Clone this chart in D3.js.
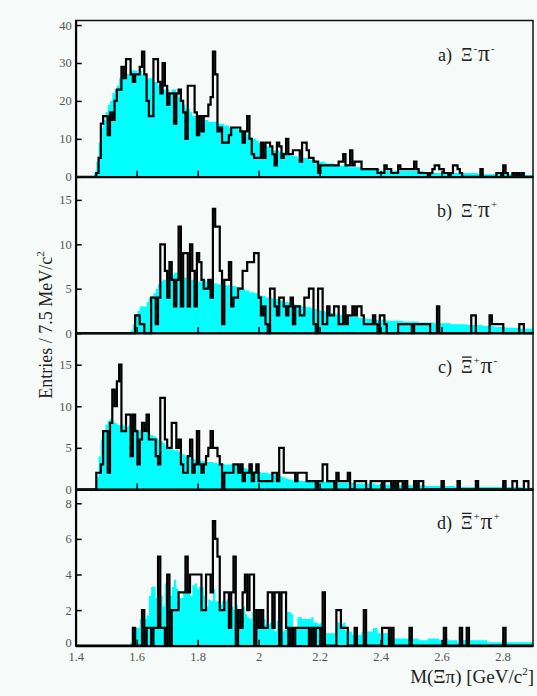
<!DOCTYPE html>
<html>
<head>
<meta charset="utf-8">
<script src="https://cdn.jsdelivr.net/npm/d3@7"></script>
<style>
  body { margin: 0; background: #f6faf8; }
  text { font-family: "Liberation Serif", "Times New Roman", serif; }
</style>
</head>
<body>
<div id="chart"></div>
<script>
// Binning: 7.5 MeV bins from 1.4 to 2.9 GeV (200 bins)
var binLo = 1.4, binHi = 2.9, binW = 0.0075;

// Measured spectra (black outline), one entry per bin
var dataA = [
  0,0,0,0,0,0,0,0,0,1,   5,14,16,16,11,17,15,20,23,23,
  29,26,31,31,27,25,27,27,29,33,   27,20,16,16,31,31,25,22,30,24,
  19,22,22,14,22,23,20,17,10,24,   24,24,17,11,16,12,16,16,19,21,
  33,27,12,13,9,9,9,11,13,13,   13,13,12,9,12,16,10,6,5,5,
  5,9,5,9,9,8,6,3,9,8,   5,6,10,6,6,7,7,7,4,9,
  9,7,5,5,4,4,1,3,3,3,   3,3,3,3,3,4,4,6,3,3,
  7,3,4,4,4,2,2,2,2,2,   2,2,1,1,1,3,2,2,1,1,
  1,3,2,2,2,2,2,2,4,2,   1,1,1,1,0,1,2,3,3,2,
  2,1,1,0,1,3,3,2,1,0,   0,0,0,0,0,0,0,2,0,0,
  0,0,0,0,1,1,0,3,1,0,   0,1,0,1,0,1,0,0,0,0
];
var dataB = [
  0,0,0,0,0,0,0,0,0,0,   0,0,0,0,0,0,0,0,0,0,
  0,0,0,0,0,0,2,2,1,1,   0,0,0,4,4,1,4,10,10,7,
  4,8,6,3,6,12,3,9,9,3,   10,7,3,9,8,6,5,5,6,4,
  14,12,12,7,1,6,6,8,3,4,   4,5,5,7,7,8,8,8,9,9,
  4,2,3,1,0,5,5,3,2,4,   4,3,2,3,4,1,3,3,2,2,
  4,4,5,5,1,0,5,5,1,1,   3,2,2,3,3,1,1,3,1,2,
  2,3,2,3,3,2,1,1,1,1,   2,1,0,2,2,1,0,0,0,0,
  0,1,1,1,1,1,1,0,1,1,   1,1,1,1,1,0,0,0,3,0,
  0,0,0,0,0,0,0,0,0,0,   0,0,0,2,2,0,0,0,0,0,
  0,2,1,1,1,1,1,0,0,0,   0,0,0,0,1,1,0,0,0,0
];
var dataC = [
  0,0,0,0,0,0,0,0,0,2,   2,3,7,7,2,8,12,10,13,15,
  7,7,9,9,4,9,7,3,6,8,   7,9,6,6,6,4,3,11,11,6,
  5,5,8,8,5,6,3,2,2,4,   6,2,3,7,3,2,3,4,5,7,
  5,5,4,3,0,2,2,2,2,3,   3,2,3,1,2,2,3,1,2,3,
  1,1,1,1,1,1,2,2,1,5,   5,2,2,2,2,2,1,2,2,2,
  2,1,1,1,1,0,1,1,3,3,   1,1,1,0,2,1,1,1,1,2,
  0,0,1,1,1,1,1,0,0,1,   1,1,1,1,0,1,1,1,0,1,
  0,1,1,0,1,0,0,0,1,0,   1,1,0,0,0,0,0,0,0,0,
  1,0,0,0,0,0,0,1,0,0,   0,0,0,0,0,1,0,0,0,0,
  0,0,0,0,0,0,0,1,0,0,   0,1,1,0,0,0,1,1,0,0
];
var dataD = [
  0,0,0,0,0,0,0,0,0,0,   0,0,0,0,0,0,0,0,0,0,
  0,0,0,0,0,1,0,0,0,2,   0,1,1,0,1,1,5,1,1,0,
  4,0,2,2,2,3,3,3,5,3,   4,4,4,4,4,2,2,4,4,3,
  7,6,5,2,2,3,3,1,3,5,   0,2,1,3,4,2,4,4,0,2,
  1,2,1,1,3,3,1,3,3,0,   3,3,1,0,1,0,1,1,1,1,
  1,1,0,1,0,1,1,0,3,0,   0,0,0,0,2,2,1,1,1,0,
  0,0,1,0,0,0,2,0,0,0,   0,0,0,0,1,1,1,0,1,0,
  0,0,0,0,0,0,1,0,0,0,   0,0,0,0,0,0,0,0,0,0,
  0,1,0,0,0,0,0,0,1,0,   0,1,0,0,0,0,0,0,0,0,
  0,0,0,0,0,0,0,1,0,0,   0,0,0,0,0,0,0,0,0,0
];

// Normalised background estimate (cyan fill), one entry per bin
var bkgA = [
  0,0,0,0,0,0,0,0,1,4,   9,13,15,17,19,20,22,23,24,26,
  26,27,27,27,28,28,28,27,28,27,   27,26,26,26,25,25,24,24,23,23,
  23,22,23,23,22,21,20,19,18,18,   17,16,16,15,15,15,15,15,14.5,14.5,
  14.5,14.5,14,14,14,13.5,13.5,13,13,13,   13,12.5,12.5,12,11.5,11,10.5,10,10,9.5,
  9,9,8.5,8,8,7.5,7,7,7,6.5,   6.5,6.5,6,6,5.5,5.5,5.5,5,5,5,
  5,5,4.5,4.5,4.5,4,4,4,4,3.5,   3.5,3.5,3.5,3,3,3,3,3,3,2.5,
  2.5,2.5,2.5,2.5,2.5,2,2,2,2,2,   2,2,2,1.5,1.5,1.5,1.5,1.5,1.5,1.5,
  1.5,1.5,1.5,1.5,1.5,1.5,1.5,1.5,1.5,1.5,   1.5,1.5,1,1,1,1,1,1,1,1,
  1,1,1,1,1,1,1,1,1,1,   1,1,1,1,1,1,0.7,0.7,0.7,0.7,
  0.7,0.7,0.7,0.7,0.7,0.7,0.7,0.7,0.7,0.7,   0.7,0.7,0.7,0.7,0.7,0.5,0.5,0.5,0.5,0.5
];
var bkgB = [
  0,0,0,0,0,0,0,0,0,0,   0,0,0,0,0,0,0,0,0,0,
  0,0,0,0,0.3,1,2,2.5,3,3,   3,3.5,4,4.2,4.5,5,5.5,5.8,6,6,
  6.2,6.5,6.5,6.8,6.8,6.5,6.5,6.3,6.2,6,   6,6,5.8,5.8,5.8,6,6,5.8,5.8,5.8,
  5.6,5.6,5.5,5.5,5.5,5.4,5.4,5.4,5.3,5.3,   5.2,5.2,5,5,4.8,4.8,4.6,4.6,4.5,4.5,
  4.3,4.2,4.2,4,4,4,3.9,3.8,3.8,3.7,   3.6,3.5,3.5,3.4,3.4,3.3,3.2,3.1,3.1,3,
  3,2.9,2.9,2.8,2.7,2.7,2.6,2.5,2.5,2.4,   2.4,2.3,2.3,2.2,2.1,2.1,2,2,1.9,1.9,
  1.9,1.8,1.8,1.8,1.7,1.7,1.7,1.6,1.6,1.6,   1.6,1.5,1.5,1.5,1.5,1.5,1.4,1.4,1.4,1.4,
  1.4,1.4,1.4,1.3,1.3,1.3,1.3,1.3,1.3,1.3,   1.2,1.2,1.2,1.2,1.2,1.2,1.2,1.1,1.1,1.1,
  1.1,1.1,1.1,1.1,1,1,1,1,1,1,   1,0.9,0.9,0.9,0.9,0.9,0.9,0.9,0.8,0.8,
  0.8,0.8,0.8,0.7,0.7,0.7,0.7,0.7,0.6,0.6,   0.6,0.6,0.6,0.6,0.5,0.5,0.5,0.5,0.5,0.5
];
var bkgC = [
  0,0,0,0,0,0,0,0,0,1.5,   4,6,7,7.8,8.3,8.5,8.2,8,7.8,7.7,
  7.8,7.6,7.5,7.7,7.4,7.2,7.3,7,7.1,6.9,   6.8,6.9,6.6,6.5,6.4,6.2,6,5.8,5.6,5.3,
  5,4.9,4.8,4.7,4.7,4.5,4.3,4.2,4,3.9,   3.8,3.7,3.6,3.6,3.5,3.4,3.4,3.3,3.3,3.3,
  3.2,3.2,3.1,3.1,3.1,3,3,3,3.1,3,   2.9,2.8,2.7,2.6,2.5,2.4,2.3,2.2,2.2,2.1,
  2.1,2,2,2,1.9,1.9,1.9,1.8,1.7,1.6,   1.5,1.4,1.3,1.2,1.2,1.1,1.1,1.1,1,1,
  1,1,1,1,1,1,0.9,0.9,0.9,0.9,   0.9,0.9,0.9,0.9,0.8,0.8,0.8,0.8,0.8,0.8,
  0.8,0.8,0.7,0.7,0.7,0.7,0.7,0.7,0.7,0.7,   0.7,0.6,0.6,0.6,0.6,0.6,0.6,0.6,0.6,0.6,
  0.6,0.5,0.5,0.5,0.5,0.5,0.5,0.5,0.5,0.5,   0.5,0.5,0.5,0.4,0.4,0.4,0.4,0.4,0.4,0.4,
  0.4,0.4,0.4,0.4,0.4,0.4,0.3,0.3,0.3,0.3,   0.3,0.3,0.3,0.3,0.3,0.3,0.3,0.3,0.3,0.3,
  0.3,0.3,0.3,0.3,0.3,0.3,0.3,0.3,0.3,0.3,   0.3,0.3,0.3,0.3,0.3,0.2,0.2,0.2,0.2,0.2
];
var bkgD = [
  0,0,0,0,0,0,0,0,0,0,   0,0,0,0,0,0,0,0,0,0,
  0,0,0,0,0.2,0.8,1,1,1.5,1.5,   1.5,1.7,2.8,3.3,3.3,2.7,3.3,2.8,2.2,3.5,
  2,2.8,3.3,3.7,3.2,2.7,2.7,3,3.3,3.1,   2.8,3.4,3.5,3.2,3.3,3.3,2.8,2.2,2.6,2.5,
  3.2,2.5,2.5,2.3,2.5,2.5,2.6,2.3,2.2,2,   2.3,1.8,1.9,2.2,1.8,1.6,1.5,1.9,1.4,1.5,
  1.6,1.8,1.5,1.2,1.2,1.3,1.1,0.8,1.4,1.4,   0.8,0.9,1.9,1.9,1.8,1,1,1.6,1.6,1.5,
  1.5,1.5,1.5,1.6,1.3,1.3,1.2,1.3,0.7,0.7,   0.7,0.7,0.7,0.7,1.3,1.3,1.2,1.3,0.8,0.8,
  0.8,0.6,0.6,0.6,0.6,0.8,0.8,0.8,0.8,0.8,   1,1,0.7,0.7,0.7,0.7,0.7,0.7,0.4,0.4,
  0.4,0.4,0.4,0.4,0.4,0.4,0.4,0.4,0.4,0.4,   0.3,0.3,0.3,0.3,0.4,0.4,0.4,0.4,0.4,0.3,
  0.3,0.4,0.4,0.3,0.3,0.3,0.3,0.2,0.3,0.3,   0.3,0.3,0.3,0.3,0.3,0.3,0.3,0.3,0.3,0.3,
  0.2,0.2,0.2,0.2,0.2,0.2,0.2,0.2,0.2,0.2,   0.2,0.2,0.2,0.2,0.2,0.2,0.2,0.2,0.2,0.2
];

// Axis ranges and tick labels
var yMaxA = 41.2, yMaxB = 17.6, yMaxC = 18.8, yMaxD = 8.78;
var yTicksA = [0, 10, 20, 30, 40];
var yTicksB = [0, 5, 10, 15];
var yTicksC = [0, 5, 10, 15];
var yTicksD = [0, 2, 4, 6, 8];
var xTicks = [1.4, 1.6, 1.8, 2.0, 2.2, 2.4, 2.6, 2.8];
var xTickLabels = ["1.4", "1.6", "1.8", "2", "2.2", "2.4", "2.6", "2.8"];

// Panel labels: [letter, overbar on Xi, Xi charge, pi charge]
var labelA = ["a)", false, "-", "-"];
var labelB = ["b)", false, "-", "+"];
var labelC = ["c)", true, "+", "-"];
var labelD = ["d)", true, "+", "+"];

window.onload = function() {

  var width = 537, height = 696;
  var plotTop = 20.5, panelH = 156.3;
  var left = 75.7, right = 533;

  var panels = [
    {data: dataA, bkg: bkgA, yMax: yMaxA, ticks: yTicksA, label: labelA},
    {data: dataB, bkg: bkgB, yMax: yMaxB, ticks: yTicksB, label: labelB},
    {data: dataC, bkg: bkgC, yMax: yMaxC, ticks: yTicksC, label: labelC},
    {data: dataD, bkg: bkgD, yMax: yMaxD, ticks: yTicksD, label: labelD}
  ];

  var x = d3.scaleLinear().domain([binLo, binHi]).range([left, right]);

  var svg = d3.select("#chart").append("svg")
    .attr("width", width)
    .attr("height", height);

  svg.append("rect")
    .attr("width", width)
    .attr("height", height)
    .attr("fill", "#f6faf8");

  // turn bin contents into step points (closing point at upper edge)
  function steps(vals) {
    var pts = vals.map(function(v, i) { return [binLo + i * binW, v]; });
    pts.push([binHi, vals[vals.length - 1]]);
    return pts;
  }

  panels.forEach(function(p, k) {
    var top = plotTop + k * panelH;
    var bottom = top + panelH;
    var last = (k === panels.length - 1);
    var y = d3.scaleLinear().domain([0, p.yMax]).range([bottom, top]);
    var g = svg.append("g");

    // cyan background histogram
    g.append("path")
      .datum(steps(p.bkg))
      .attr("d", d3.area().curve(d3.curveStepAfter)
        .x(function(d) { return x(d[0]); })
        .y0(bottom)
        .y1(function(d) { return y(d[1]); }))
      .attr("fill", "#00ffff");

    // data histogram outline
    g.append("path")
      .datum(steps(p.data))
      .attr("d", d3.line().curve(d3.curveStepAfter)
        .x(function(d) { return x(d[0]); })
        .y(function(d) { return y(d[1]); }))
      .attr("fill", "none")
      .attr("stroke", "#000")
      .attr("stroke-width", 2.2);

    // frame
    g.append("rect")
      .attr("x", left).attr("y", top)
      .attr("width", right - left).attr("height", panelH)
      .attr("fill", "none")
      .attr("stroke", "#111")
      .attr("stroke-width", 1.5);

    // y axis, ticks pointing inwards
    var yAxis = g.append("g")
      .attr("transform", "translate(" + left + ",0)")
      .call(d3.axisLeft(y).tickValues(p.ticks).tickSizeInner(-6).tickSizeOuter(0).tickPadding(4));
    yAxis.select(".domain").attr("stroke-width", 2);
    yAxis.selectAll(".tick line").attr("stroke-width", 1.5);
    yAxis.selectAll("text")
      .attr("font-family", "Liberation Serif, serif")
      .attr("font-size", 12.5)
      .attr("fill", "#555")
      // bottom panel: lift the zero label clear of the x tick labels
      .attr("dy", function(d) { return (last && d === 0) ? "0.04em" : "0.32em"; });

    // x axis, ticks pointing inwards
    var xAxis = g.append("g")
      .attr("transform", "translate(0," + bottom + ")")
      .call(d3.axisBottom(x).tickValues(xTicks).tickSizeInner(-6).tickSizeOuter(0).tickPadding(6)
        .tickFormat(function(d, i) { return last ? xTickLabels[i] : ""; }));
    xAxis.select(".domain").attr("stroke-width", 2);
    xAxis.selectAll(".tick line").attr("stroke-width", 1.5);
    xAxis.selectAll("text")
      .attr("font-family", "Liberation Serif, serif")
      .attr("font-size", 12.5)
      .attr("fill", "#555");

    // panel label: letter right-aligned, particle names after it
    var baseY = top + 40;
    g.append("text")
      .attr("x", 452)
      .attr("y", baseY)
      .attr("text-anchor", "end")
      .attr("font-size", 18)
      .attr("fill", "#222")
      .text(p.label[0]);
    var lab = g.append("text")
      .attr("x", 461)
      .attr("y", baseY)
      .attr("font-size", 18)
      .attr("fill", "#222");
    lab.append("tspan").text("\u039E");
    lab.append("tspan").attr("dy", -9).attr("dx", 1).attr("font-size", 11).text(p.label[2]);
    lab.append("tspan").attr("dy", 9).attr("dx", 1).attr("font-size", 23).text("\u03C0");
    lab.append("tspan").attr("dy", -9).attr("dx", 1).attr("font-size", 11).text(p.label[3]);

    // overbar on anti-Xi
    if (p.label[1]) {
      var ext = lab.node().getExtentOfChar(0);
      g.append("line")
        .attr("x1", ext.x + 1).attr("x2", ext.x + ext.width - 1)
        .attr("y1", baseY - 16).attr("y2", baseY - 16)
        .attr("stroke", "#222")
        .attr("stroke-width", 1.3);
    }
  });

  // axis titles
  var yt = svg.append("text")
    .attr("transform", "translate(52," + 325 + ") rotate(-90)")
    .attr("text-anchor", "middle")
    .attr("font-size", 18)
    .attr("fill", "#222");
  yt.append("tspan").text("Entries / 7.5 MeV/c");
  yt.append("tspan").attr("dy", -8).attr("font-size", 11).text("2");

  var xt = svg.append("text")
    .attr("x", 534)
    .attr("y", 683)
    .attr("text-anchor", "end")
    .attr("font-size", 19)
    .attr("fill", "#222");
  xt.append("tspan").text("M(\u039E\u03C0) [GeV/c");
  xt.append("tspan").attr("dy", -8).attr("font-size", 11).text("2");
  xt.append("tspan").attr("dy", 8).text("]");
};
</script>
</body>
</html>
